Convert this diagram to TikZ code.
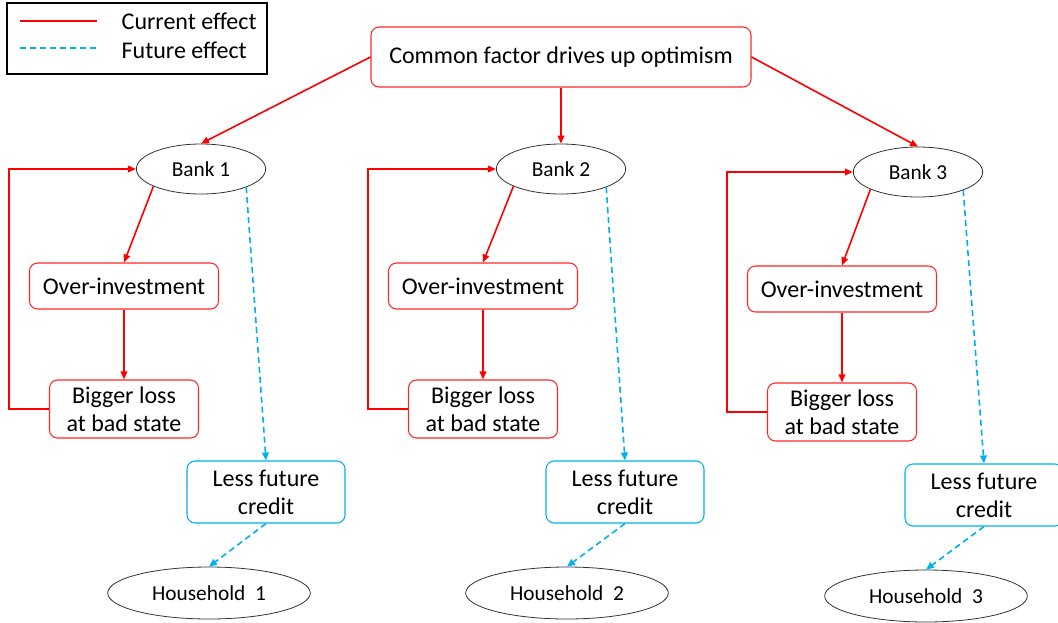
\documentclass[tikz,border=0pt]{standalone}
\usepackage{fontspec}
\setmainfont{Carlito}
\usetikzlibrary{shapes.geometric,arrows.meta}
\definecolor{curred}{RGB}{255,0,0}
\definecolor{futblue}{RGB}{0,176,240}

\begin{document}
\begin{tikzpicture}[x=0.75pt, y=-0.75pt, >={Triangle[length=6pt,width=5pt]},
    cur/.style={curred, line width=1.2pt},
    fut/.style={futblue, line width=1.2pt, dash pattern=on 4.5pt off 3pt},
    redbox/.style={draw=curred!85, rounded corners=6pt, line width=0.8pt, align=center, inner sep=0pt, font=\fontsize{18}{21}\selectfont},
    bluebox/.style={draw=futblue, rounded corners=6pt, line width=0.8pt, align=center, inner sep=0pt, font=\fontsize{18}{21}\selectfont, minimum width=118.5pt, minimum height=46.5pt},
    oval/.style={ellipse, draw=black!80, line width=0.6pt, inner sep=0pt, font=\fontsize{16}{19}\selectfont}]
    \useasboundingbox (0,0) rectangle (1058,622);

    % legend
    \draw[line width=0.8pt] (7,3) rectangle (267,74);
    \node[anchor=west, font=\fontsize{18}{21}\selectfont] (lcur) at (117,21) {Current effect};
    \node[anchor=west, font=\fontsize{18}{21}\selectfont] (lfut) at (117,50) {Future effect};
    \draw[cur] (lcur.west) ++(-97,0) -- ++(77,0);
    \draw[fut] (lfut.west) ++(-97,-2) -- ++(77,0);

    \node[redbox, minimum width=285pt, minimum height=45pt] (top) at (561,57) {Common factor drives up optimism};

    \node[oval, minimum width=97pt, minimum height=37.5pt] (bank1) at (201,169) {Bank 1};
    \node[oval, minimum width=97pt, minimum height=37.5pt] (bank2) at (561,169) {Bank 2};
    \node[oval, minimum width=97pt, minimum height=37.5pt] (bank3) at (918,172) {Bank 3};

    \node[redbox, minimum width=141.75pt, minimum height=34.5pt] (over1) at (124,286) {Over-investment};
    \node[redbox, minimum width=141.75pt, minimum height=34.5pt] (over2) at (483,286) {Over-investment};
    \node[redbox, minimum width=141.75pt, minimum height=34.5pt] (over3) at (842,289) {Over-investment};

    \node[redbox, minimum width=111.75pt, minimum height=43.5pt] (loss1) at (124,409) {Bigger loss\\at bad state};
    \node[redbox, minimum width=111.75pt, minimum height=43.5pt] (loss2) at (483,409) {Bigger loss\\at bad state};
    \node[redbox, minimum width=111.75pt, minimum height=43.5pt] (loss3) at (842,412) {Bigger loss\\at bad state};

    \node[bluebox] (less1) at (266,492) {Less future\\credit};
    \node[bluebox] (less2) at (625,492) {Less future\\credit};
    \node[bluebox] (less3) at (984,495) {Less future\\credit};

    \node[oval, minimum width=152pt, minimum height=39pt] (house1) at (209,593) {Household\ \ 1};
    \node[oval, minimum width=152pt, minimum height=39pt] (house2) at (567,593) {Household\ \ 2};
    \node[oval, minimum width=152pt, minimum height=39pt] (house3) at (926,596) {Household\ \ 3};

    % current effect
    \draw[cur, ->] (top.west) -- (bank1.north);
    \draw[cur, ->] (top) -- (bank2);
    \draw[cur, ->] (top.east) -- (bank3.north);

    \draw[cur, ->] (bank1.200) -- (over1.north);
    \draw[cur, ->] (bank2.200) -- (over2.north);
    \draw[cur, ->] (bank3.200) -- (over3.north);
    \draw[cur, ->] (over1) -- (loss1);
    \draw[cur, ->] (over2) -- (loss2);
    \draw[cur, ->] (over3) -- (loss3);
    \draw[cur, ->] (loss1.west) -- ++(-40,0) |- (bank1.west);
    \draw[cur, ->] (loss2.west) -- ++(-40,0) |- (bank2.west);
    \draw[cur, ->] (loss3.west) -- ++(-40,0) |- (bank3.west);

    % future effect
    \draw[fut, ->] (bank1.338) -- (less1.north);
    \draw[fut, ->] (bank2.338) -- (less2.north);
    \draw[fut, ->] (bank3.338) -- (less3.north);
    \draw[fut, ->] (less1.south) -- (house1.north);
    \draw[fut, ->] (less2.south) -- (house2.north);
    \draw[fut, ->] (less3.south) -- (house3.north);
\end{tikzpicture}
\end{document}
